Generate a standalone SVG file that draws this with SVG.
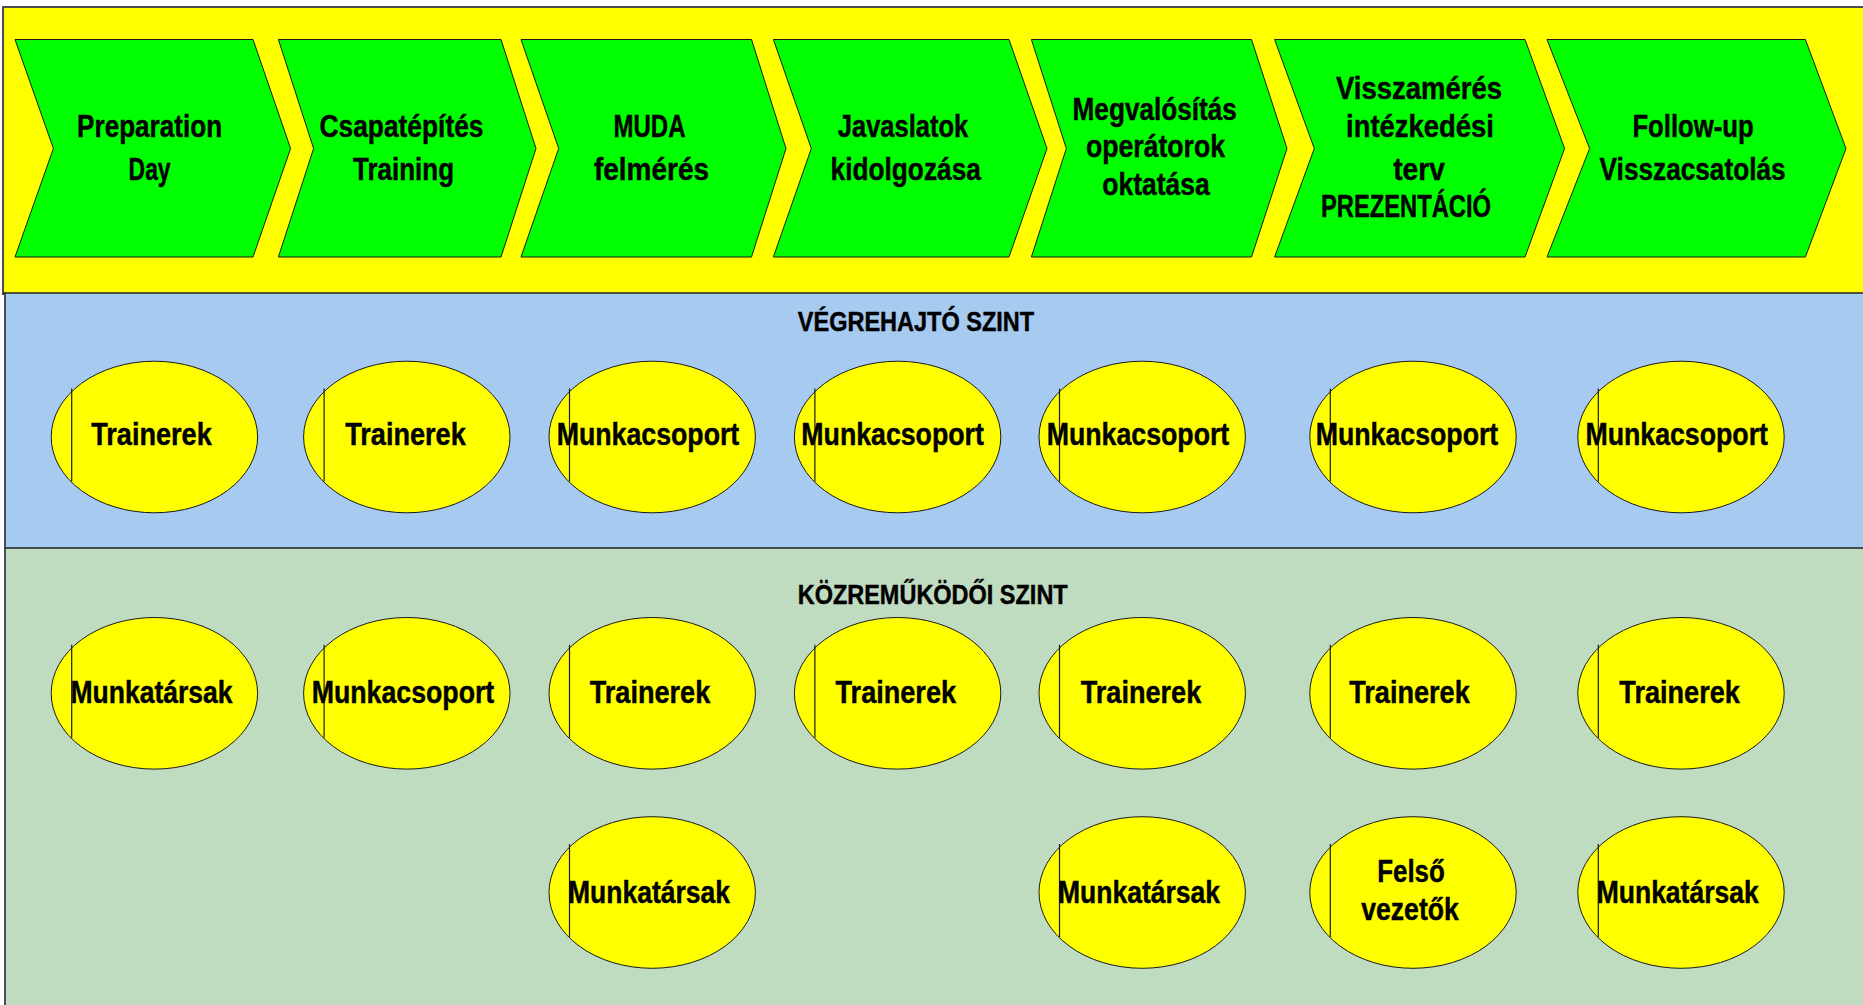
<svg xmlns="http://www.w3.org/2000/svg" width="1863" height="1005" viewBox="0 0 1863 1005">
<style>
.band-y{fill:#FFFF00;stroke:none}
.band-b{fill:#A6CAF0;stroke:none}
.band-g{fill:#C0DCC0;stroke:none}
.border{stroke:#4d4d4d;stroke-width:2;fill:none}
.sep{stroke:#222;stroke-width:1.6;fill:none}
.chev{fill:#00FF00;stroke:#1a1a1a;stroke-width:1}
.ell{fill:#FFFF00;stroke:#1a1a1a;stroke-width:1}
.bar{stroke:#1a1a1a;stroke-width:1.2}
text{font-family:"Liberation Sans Narrow","Liberation Sans",Arial,sans-serif;font-weight:bold;fill:#000;stroke:#000;stroke-width:0.45;text-anchor:middle}
.t{font-size:32px}
.h{font-size:27px}
</style>
<rect x="0" y="0" width="1863" height="1005" fill="#ffffff"/>
<g id="bands">
<rect class="band-y" x="3" y="7" width="1862" height="286"/>
<rect class="band-b" x="5" y="293" width="1860" height="255"/>
<rect class="band-g" x="5" y="548" width="1860" height="460"/>
<line class="border" x1="2" y1="7" x2="1863" y2="7"/>
<line class="border" x1="3" y1="6" x2="3" y2="295"/>
<line class="border" x1="5" y1="293" x2="5" y2="1005"/>
<line class="sep" x1="3" y1="293" x2="1863" y2="293"/>
<line class="sep" x1="5" y1="548" x2="1863" y2="548"/>
</g>
<g id="connectors"></g>
<g id="step1">
<polygon class="chev" points="15,39.5 253,39.5 290.6,148.5 253,257 15,257 53.4,148.5"/>
<text class="t" x="149.6" y="137.3" textLength="145" lengthAdjust="spacingAndGlyphs">Preparation</text>
<text class="t" x="149.6" y="180" textLength="42" lengthAdjust="spacingAndGlyphs">Day</text>
</g>
<g id="step2">
<polygon class="chev" points="278.4,39.5 501,39.5 536,148.5 501,257 278.4,257 313.6,148.5"/>
<text class="t" x="401.5" y="137.3" textLength="164" lengthAdjust="spacingAndGlyphs">Csapatépítés</text>
<text class="t" x="403.5" y="180" textLength="101" lengthAdjust="spacingAndGlyphs">Training</text>
</g>
<g id="step3">
<polygon class="chev" points="521,39.5 751.5,39.5 786,148.5 751.5,257 521,257 558.7,148.5"/>
<text class="t" x="649.5" y="137.3" textLength="72" lengthAdjust="spacingAndGlyphs">MUDA</text>
<text class="t" x="651.5" y="180" textLength="115" lengthAdjust="spacingAndGlyphs">felmérés</text>
</g>
<g id="step4">
<polygon class="chev" points="773.4,39.5 1009,39.5 1047,148.5 1009,257 773.4,257 811.3,148.5"/>
<text class="t" x="903" y="137.3" textLength="130.5" lengthAdjust="spacingAndGlyphs">Javaslatok</text>
<text class="t" x="905.7" y="180" textLength="150.3" lengthAdjust="spacingAndGlyphs">kidolgozása</text>
</g>
<g id="step5">
<polygon class="chev" points="1031.4,39.5 1251.5,39.5 1287,148.5 1251.5,257 1031.4,257 1066.3,148.5"/>
<text class="t" x="1154.7" y="119.5" textLength="164.2" lengthAdjust="spacingAndGlyphs">Megvalósítás</text>
<text class="t" x="1155.5" y="157" textLength="139" lengthAdjust="spacingAndGlyphs">operátorok</text>
<text class="t" x="1156" y="195" textLength="107.3" lengthAdjust="spacingAndGlyphs">oktatása</text>
</g>
<g id="step6">
<polygon class="chev" points="1274.6,39.5 1525,39.5 1564.6,148.5 1525,257 1274.6,257 1314.3,148.5"/>
<text class="t" x="1419" y="98.5" textLength="166" lengthAdjust="spacingAndGlyphs">Visszamérés</text>
<text class="t" x="1420" y="137.3" textLength="147.8" lengthAdjust="spacingAndGlyphs">intézkedési</text>
<text class="t" x="1419" y="180" textLength="51.6" lengthAdjust="spacingAndGlyphs">terv</text>
<text class="t" x="1406" y="217" textLength="170" lengthAdjust="spacingAndGlyphs">PREZENTÁCIÓ</text>
</g>
<g id="step7">
<polygon class="chev" points="1547,39.5 1805.4,39.5 1846,148.5 1805.4,257 1547,257 1589.6,148.5"/>
<text class="t" x="1693" y="137.3" textLength="121.2" lengthAdjust="spacingAndGlyphs">Follow-up</text>
<text class="t" x="1692.6" y="180" textLength="186" lengthAdjust="spacingAndGlyphs">Visszacsatolás</text>
</g>
<g id="label-vegrehajto">
<text class="h" x="916" y="330.7" textLength="236.4" lengthAdjust="spacingAndGlyphs">VÉGREHAJTÓ SZINT</text>
</g>
<g id="label-kozremukodoi">
<text class="h" x="932.7" y="604.3" textLength="270" lengthAdjust="spacingAndGlyphs">KÖZREMŰKÖDŐI SZINT</text>
</g>
<!-- Row 1 (cy 437) -->
<g id="r1c1"><ellipse class="ell" cx="154.4" cy="437" rx="103.2" ry="75.8"/><line class="bar" x1="71.7" y1="388.5" x2="71.7" y2="481.5"/><text class="t" x="151.5" y="445" textLength="120.5" lengthAdjust="spacingAndGlyphs">Trainerek</text></g>
<g id="r1c2"><ellipse class="ell" cx="406.8" cy="437" rx="103.2" ry="75.8"/><line class="bar" x1="324.1" y1="388.5" x2="324.1" y2="481.5"/><text class="t" x="405.5" y="445" textLength="120.5" lengthAdjust="spacingAndGlyphs">Trainerek</text></g>
<g id="r1c3"><ellipse class="ell" cx="652.2" cy="437" rx="103.2" ry="75.8"/><line class="bar" x1="569.5" y1="388.5" x2="569.5" y2="481.5"/><text class="t" x="648" y="445" textLength="182.5" lengthAdjust="spacingAndGlyphs">Munkacsoport</text></g>
<g id="r1c4"><ellipse class="ell" cx="897.6" cy="437" rx="103.2" ry="75.8"/><line class="bar" x1="814.9" y1="388.5" x2="814.9" y2="481.5"/><text class="t" x="892.6" y="445" textLength="182.5" lengthAdjust="spacingAndGlyphs">Munkacsoport</text></g>
<g id="r1c5"><ellipse class="ell" cx="1142.2" cy="437" rx="103.2" ry="75.8"/><line class="bar" x1="1059.5" y1="388.5" x2="1059.5" y2="481.5"/><text class="t" x="1138" y="445" textLength="182.5" lengthAdjust="spacingAndGlyphs">Munkacsoport</text></g>
<g id="r1c6"><ellipse class="ell" cx="1413" cy="437" rx="103.2" ry="75.8"/><line class="bar" x1="1330.3" y1="388.5" x2="1330.3" y2="481.5"/><text class="t" x="1407" y="445" textLength="182.5" lengthAdjust="spacingAndGlyphs">Munkacsoport</text></g>
<g id="r1c7"><ellipse class="ell" cx="1681" cy="437" rx="103.2" ry="75.8"/><line class="bar" x1="1598.3" y1="388.5" x2="1598.3" y2="481.5"/><text class="t" x="1676.7" y="445" textLength="182.5" lengthAdjust="spacingAndGlyphs">Munkacsoport</text></g>
<!-- Row 2 (cy 693.3) -->
<g id="r2c1"><ellipse class="ell" cx="154.4" cy="693.3" rx="103.2" ry="75.8"/><line class="bar" x1="71.7" y1="644.8" x2="71.7" y2="737.8"/><text class="t" x="151.5" y="703.3" textLength="162" lengthAdjust="spacingAndGlyphs">Munkatársak</text></g>
<g id="r2c2"><ellipse class="ell" cx="406.8" cy="693.3" rx="103.2" ry="75.8"/><line class="bar" x1="324.1" y1="644.8" x2="324.1" y2="737.8"/><text class="t" x="403" y="703.3" textLength="182.5" lengthAdjust="spacingAndGlyphs">Munkacsoport</text></g>
<g id="r2c3"><ellipse class="ell" cx="652.2" cy="693.3" rx="103.2" ry="75.8"/><line class="bar" x1="569.5" y1="644.8" x2="569.5" y2="737.8"/><text class="t" x="650" y="703.3" textLength="120.5" lengthAdjust="spacingAndGlyphs">Trainerek</text></g>
<g id="r2c4"><ellipse class="ell" cx="897.6" cy="693.3" rx="103.2" ry="75.8"/><line class="bar" x1="814.9" y1="644.8" x2="814.9" y2="737.8"/><text class="t" x="895.8" y="703.3" textLength="120.5" lengthAdjust="spacingAndGlyphs">Trainerek</text></g>
<g id="r2c5"><ellipse class="ell" cx="1142.2" cy="693.3" rx="103.2" ry="75.8"/><line class="bar" x1="1059.5" y1="644.8" x2="1059.5" y2="737.8"/><text class="t" x="1141" y="703.3" textLength="120.5" lengthAdjust="spacingAndGlyphs">Trainerek</text></g>
<g id="r2c6"><ellipse class="ell" cx="1413" cy="693.3" rx="103.2" ry="75.8"/><line class="bar" x1="1330.3" y1="644.8" x2="1330.3" y2="737.8"/><text class="t" x="1409.5" y="703.3" textLength="120.5" lengthAdjust="spacingAndGlyphs">Trainerek</text></g>
<g id="r2c7"><ellipse class="ell" cx="1681" cy="693.3" rx="103.2" ry="75.8"/><line class="bar" x1="1598.3" y1="644.8" x2="1598.3" y2="737.8"/><text class="t" x="1679.6" y="703.3" textLength="120.5" lengthAdjust="spacingAndGlyphs">Trainerek</text></g>
<!-- Row 3 (cy 892.5) -->
<g id="r3c3"><ellipse class="ell" cx="652.2" cy="892.5" rx="103.2" ry="75.8"/><line class="bar" x1="569.5" y1="844" x2="569.5" y2="937"/><text class="t" x="649" y="902.7" textLength="162" lengthAdjust="spacingAndGlyphs">Munkatársak</text></g>
<g id="r3c5"><ellipse class="ell" cx="1142.2" cy="892.5" rx="103.2" ry="75.8"/><line class="bar" x1="1059.5" y1="844" x2="1059.5" y2="937"/><text class="t" x="1139" y="902.7" textLength="162" lengthAdjust="spacingAndGlyphs">Munkatársak</text></g>
<g id="r3c6"><ellipse class="ell" cx="1413" cy="892.5" rx="103.2" ry="75.8"/><line class="bar" x1="1330.3" y1="844" x2="1330.3" y2="937"/><text class="t" x="1411" y="881.7" textLength="67.6" lengthAdjust="spacingAndGlyphs">Felső</text><text class="t" x="1410" y="920" textLength="97.5" lengthAdjust="spacingAndGlyphs">vezetők</text></g>
<g id="r3c7"><ellipse class="ell" cx="1681" cy="892.5" rx="103.2" ry="75.8"/><line class="bar" x1="1598.3" y1="844" x2="1598.3" y2="937"/><text class="t" x="1677.7" y="902.7" textLength="162" lengthAdjust="spacingAndGlyphs">Munkatársak</text></g>
</svg>
